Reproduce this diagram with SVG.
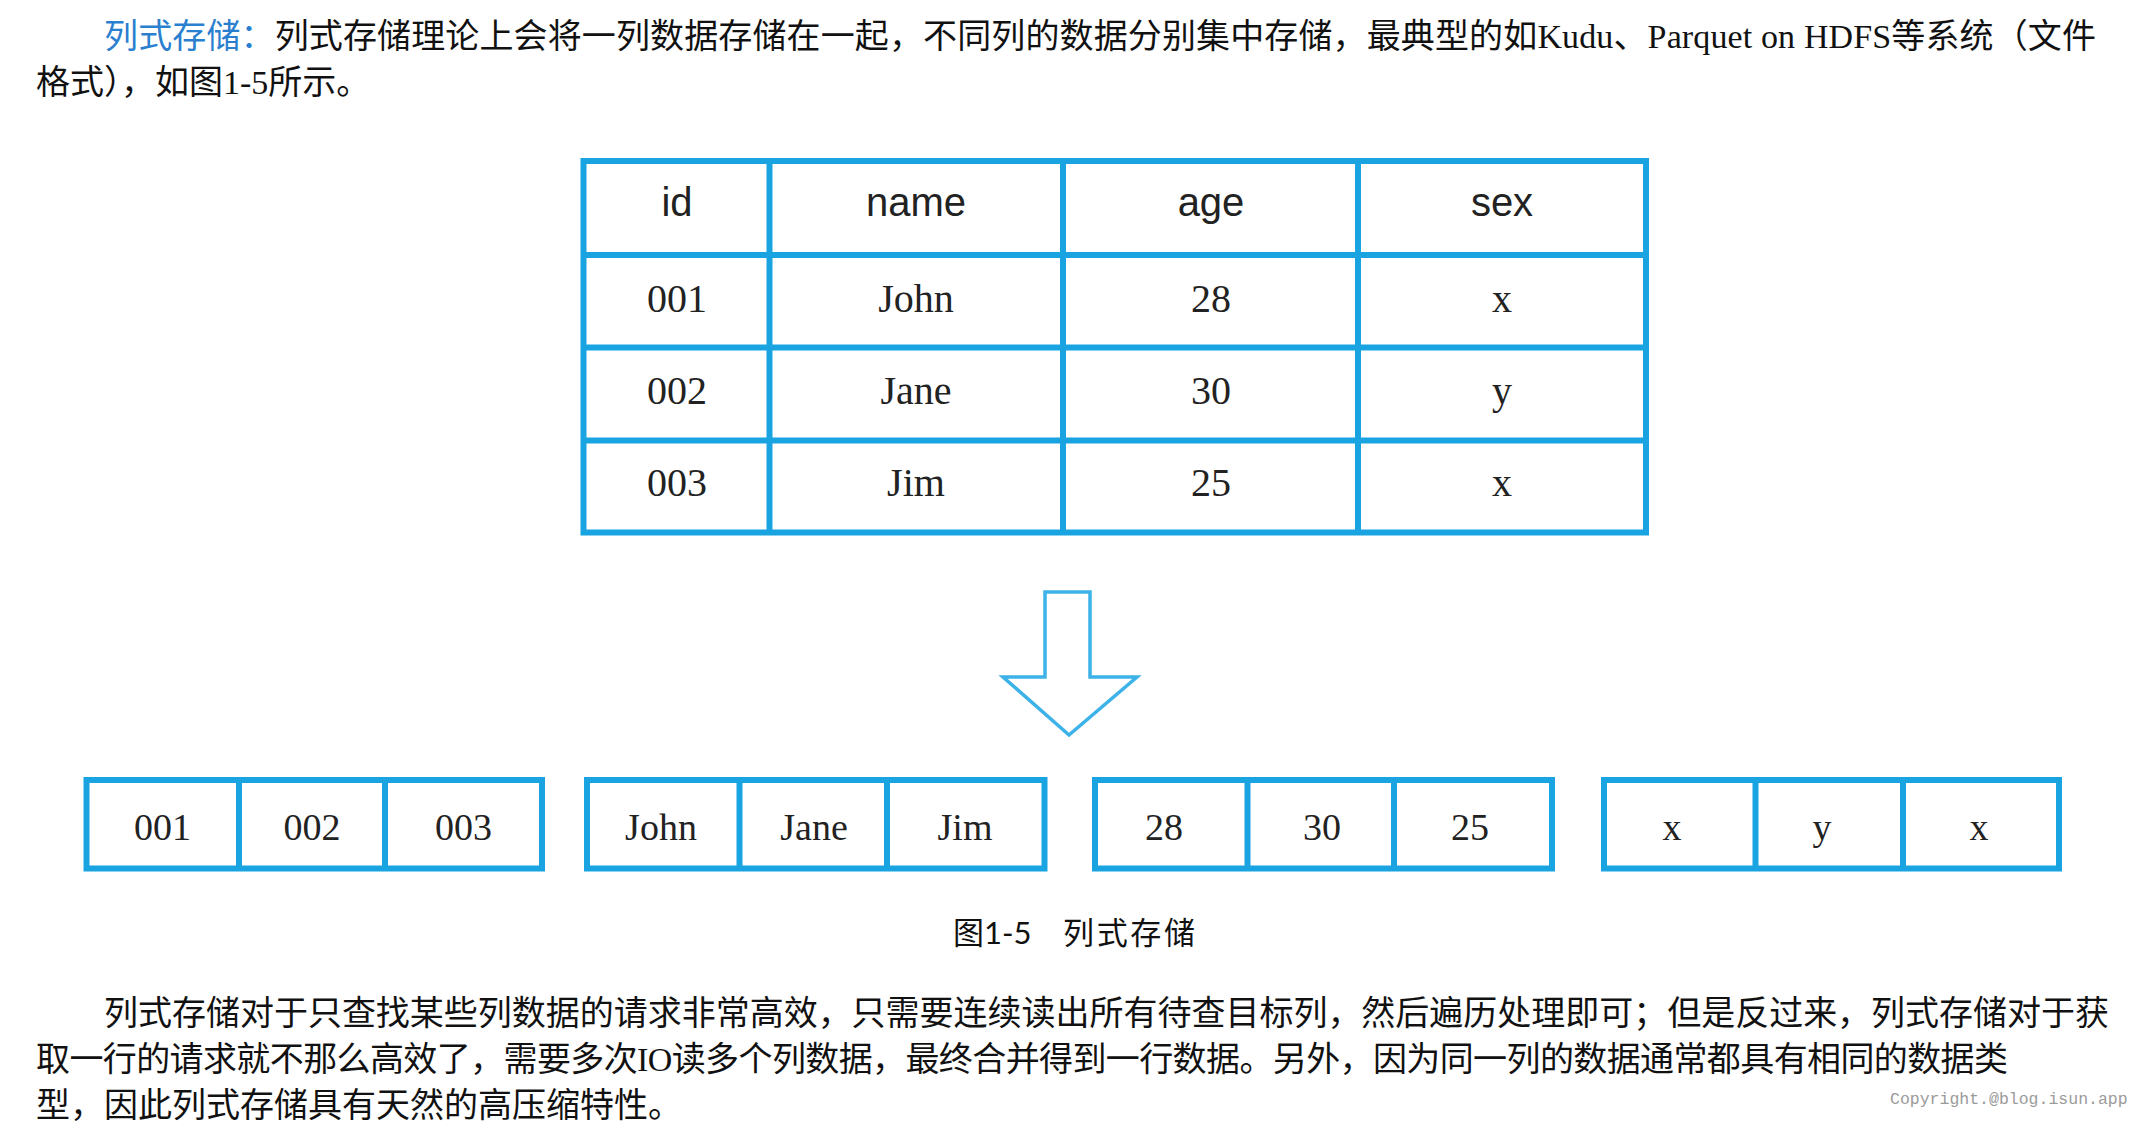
<svg xmlns="http://www.w3.org/2000/svg" width="2152" height="1128" viewBox="0 0 2152 1128">
<style>
.body{font-family:"Liberation Serif","Noto Sans CJK SC",serif;font-size:34px;fill:#111}
.hl{fill:#2a7fcf}
.grid{fill:none;stroke:#19a3e1;stroke-width:6}
.hdr{font-family:"Liberation Sans",Arial,sans-serif;font-size:40px;fill:#222;text-anchor:middle}
.cell{font-family:"Liberation Serif","Times New Roman",serif;font-size:40px;fill:#222;text-anchor:middle}
.bcell{font-family:"Liberation Serif","Times New Roman",serif;font-size:38px;fill:#222;text-anchor:middle}
.cap{font-family:Lato,"Noto Sans CJK SC",sans-serif;font-size:31px;fill:#111}
.copy{font-family:"Liberation Mono",monospace;font-size:16.5px;fill:#9a9a9a}
</style>
<rect width="2152" height="1128" fill="#fff"/>

<g id="intro">
<text class="body" x="104" y="48" textLength="1992" lengthAdjust="spacing"><tspan class="hl">列式存储：</tspan>列式存储理论上会将一列数据存储在一起，不同列的数据分别集中存储，最典型的如Kudu、Parquet on HDFS等系统（文件</text>
<text class="body" x="36" y="94">格式），如图1-5所示。</text>
</g>

<g id="row-table">
<rect class="grid" x="583.5" y="161" width="1062.5" height="371.5"/>
<line class="grid" x1="769.5" y1="161" x2="769.5" y2="532.5"/>
<line class="grid" x1="1063" y1="161" x2="1063" y2="532.5"/>
<line class="grid" x1="1358" y1="161" x2="1358" y2="532.5"/>
<line class="grid" x1="583.5" y1="255" x2="1646" y2="255"/>
<line class="grid" x1="583.5" y1="347.5" x2="1646" y2="347.5"/>
<line class="grid" x1="583.5" y1="440.5" x2="1646" y2="440.5"/>
<text class="hdr" x="677" y="216">id</text>
<text class="hdr" x="916" y="216">name</text>
<text class="hdr" x="1211" y="216">age</text>
<text class="hdr" x="1502" y="216">sex</text>
<text class="cell" x="677" y="312">001</text>
<text class="cell" x="916" y="312">John</text>
<text class="cell" x="1211" y="312">28</text>
<text class="cell" x="1502" y="312">x</text>
<text class="cell" x="677" y="404">002</text>
<text class="cell" x="916" y="404">Jane</text>
<text class="cell" x="1211" y="404">30</text>
<text class="cell" x="1502" y="404">y</text>
<text class="cell" x="677" y="496">003</text>
<text class="cell" x="916" y="496">Jim</text>
<text class="cell" x="1211" y="496">25</text>
<text class="cell" x="1502" y="496">x</text>
</g>

<g id="connectors">
<polygon id="down-arrow" points="1045,592 1090,592 1090,677 1137,677 1069,735 1003,677 1045,677" fill="#fff" stroke="#3db2e8" stroke-width="3.5" stroke-linejoin="miter"/>
</g>

<g id="col-id">
<rect class="grid" x="86.5" y="780" width="455.5" height="88.5"/>
<line class="grid" x1="239" y1="780" x2="239" y2="868.5"/>
<line class="grid" x1="385" y1="780" x2="385" y2="868.5"/>
<text class="bcell" x="162.5" y="840">001</text>
<text class="bcell" x="312" y="840">002</text>
<text class="bcell" x="463.5" y="840">003</text>
</g>

<g id="col-name">
<rect class="grid" x="587" y="780" width="457.5" height="88.5"/>
<line class="grid" x1="739.5" y1="780" x2="739.5" y2="868.5"/>
<line class="grid" x1="887" y1="780" x2="887" y2="868.5"/>
<text class="bcell" x="661" y="840">John</text>
<text class="bcell" x="814" y="840">Jane</text>
<text class="bcell" x="965" y="840">Jim</text>
</g>

<g id="col-age">
<rect class="grid" x="1095" y="780" width="457" height="88.5"/>
<line class="grid" x1="1247.5" y1="780" x2="1247.5" y2="868.5"/>
<line class="grid" x1="1394" y1="780" x2="1394" y2="868.5"/>
<text class="bcell" x="1164" y="840">28</text>
<text class="bcell" x="1322" y="840">30</text>
<text class="bcell" x="1470" y="840">25</text>
</g>

<g id="col-sex">
<rect class="grid" x="1604" y="780" width="455" height="88.5"/>
<line class="grid" x1="1755.5" y1="780" x2="1755.5" y2="868.5"/>
<line class="grid" x1="1903" y1="780" x2="1903" y2="868.5"/>
<text class="bcell" x="1672" y="840">x</text>
<text class="bcell" x="1822" y="840">y</text>
<text class="bcell" x="1979" y="840">x</text>
</g>

<g id="caption">
<text class="cap" x="953" y="944">图1-5</text>
<text class="cap" x="1063" y="944" textLength="132" lengthAdjust="spacing">列式存储</text>
</g>

<g id="closing">
<text class="body" x="104" y="1025" textLength="2005" lengthAdjust="spacing">列式存储对于只查找某些列数据的请求非常高效，只需要连续读出所有待查目标列，然后遍历处理即可；但是反过来，列式存储对于获</text>
<text class="body" x="36" y="1071" textLength="1972" lengthAdjust="spacing">取一行的请求就不那么高效了，需要多次IO读多个列数据，最终合并得到一行数据。另外，因为同一列的数据通常都具有相同的数据类</text>
<text class="body" x="36" y="1117">型，因此列式存储具有天然的高压缩特性。</text>
</g>

<text class="copy" x="1890" y="1104">Copyright.@blog.isun.app</text>
</svg>
